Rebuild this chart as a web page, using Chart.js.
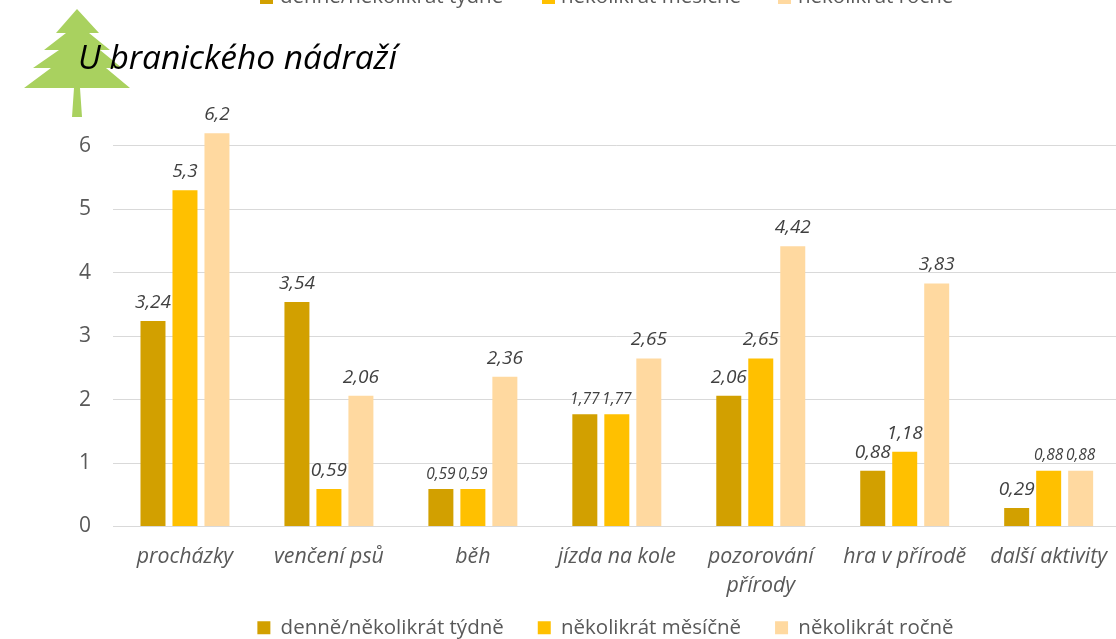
<!DOCTYPE html>
<html><head><meta charset="utf-8">
<style>html,body{margin:0;padding:0;background:#fff;overflow:hidden;width:1116px;height:639px}canvas{display:block}</style>
<script src="https://cdn.jsdelivr.net/npm/chart.js@4/dist/chart.umd.min.js"></script>
</head><body><canvas id="c" width="1123" height="680" style="width:1123px;height:680px"></canvas>
<script>
const categories=["procházky","venčení psů","běh","jízda na kole",["pozorování","přírody"],"hra v přírodě","další aktivity"];
const seriesNames=["denně/několikrát týdně","několikrát měsíčně","několikrát ročně"];
const weekly=[3.24,3.54,0.59,1.77,2.06,0.88,0.29];
const monthly=[5.3,0.59,0.59,1.77,2.65,1.18,0.88];
const yearly=[6.2,2.06,2.36,2.65,4.42,3.83,0.88];
const colors=["#D2A000","#FFC000","#FFD9A0"];
const titleText="U branického nádraží";
const FONT='"Open Sans"';

const tree=[[77,9],[99,33],[89,33],[110,50],[100,50],[122,68],[106,68],[130,88],[80,88],[82,117],[72,117],[74,88],[24,88],[51,68],[33,68],[59,50],[44,50],[66,33],[56,33]];
const decor={id:'decor',
 afterLayout(ch){const l=ch.legend;const dx=5,dy=-32;l.left+=dx;l.right+=dx;l.top+=dy;l.bottom+=dy;},
 beforeDraw(ch){const x=ch.ctx;x.save();x.fillStyle='#fff';x.fillRect(0,0,ch.width,ch.height);
  x.fillStyle='#A9D15F';x.beginPath();tree.forEach((p,i)=>i?x.lineTo(p[0],p[1]):x.moveTo(p[0],p[1]));x.closePath();x.fill();x.restore();},
 afterDatasetsDraw(ch){const x=ch.ctx;x.save();x.textAlign='center';x.textBaseline='bottom';x.fillStyle='#404040';
  ch.data.datasets.forEach((d,di)=>{ch.getDatasetMeta(di).data.forEach((b,i)=>{
    const v=d.data[i];
    const sib=ch.data.datasets.map(s=>s.data[i]);
    const small=(sib[di-1]===v||sib[di+1]===v)&&v<2;
    x.font=`italic ${small?15.5:19}px ${FONT}`;
    x.fillText(String(v).replace('.',','),b.x,b.y-(small?7:9));
  });});x.restore();},
 afterDraw(ch){const l=ch.legend,x=ch.ctx;if(!l)return;x.save();x.font=`20.5px ${FONT}`;x.textBaseline='middle';x.textAlign='left';
  const starts=[260,542,778],texts=[280,561,798];
  l.legendItems.forEach((it,i)=>{
   x.fillStyle=it.fillStyle;x.fillRect(starts[i],-9,13,13);
   x.fillStyle='#595959';x.fillText(it.text,texts[i],-3);});
  x.restore();}
};
new Chart(document.getElementById('c'),{type:'bar',
 data:{labels:categories,datasets:[weekly,monthly,yearly].map((d,i)=>({label:seriesNames[i],data:d,backgroundColor:colors[i],categoryPercentage:96/144,barPercentage:25/32}))},
 plugins:[decor],
 options:{responsive:false,animation:false,
  layout:{padding:{left:78,right:0,top:0,bottom:0}},
  plugins:{tooltip:{enabled:false},
   title:{display:true,text:titleText,align:'start',color:'#000',font:{family:FONT,size:33.5,style:'italic',weight:'normal'},padding:{top:39,bottom:35}},
   legend:{position:'bottom',labels:{color:'#595959',boxWidth:13,boxHeight:13,padding:34,font:{family:FONT,size:20.5}}}},
  scales:{
   x:{grid:{display:false,drawTicks:false},border:{color:'#D9D9D9'},
      ticks:{color:'#595959',maxRotation:0,autoSkip:false,padding:16,font:{family:FONT,size:21.3,style:'italic',lineHeight:1.36}},
      afterFit(s){s.height=89;}},
   y:{min:0,max:6.5,grid:{color:'#D9D9D9',drawTicks:false},border:{display:false},
      ticks:{color:'#595959',padding:22,font:{family:FONT,size:21},stepSize:1},
      afterBuildTicks(s){s.ticks=s.ticks.filter(t=>Number.isInteger(t.value));},
      afterFit(s){s.width=35;}}
  }}});
</script></body></html>
